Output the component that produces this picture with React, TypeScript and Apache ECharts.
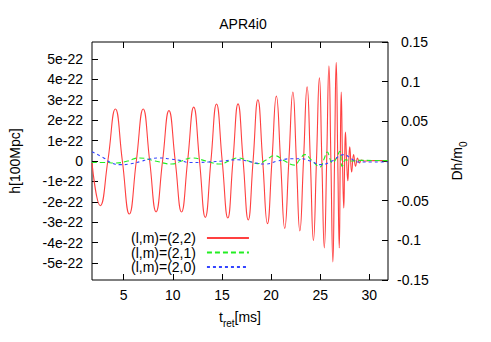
import React, { useEffect, useRef } from "react";
import * as echarts from "echarts";

// (l,m)=(2,2): times [ms] and h [1e-22] at extrema / zero crossings
const tRed = [
  1.78, 2.62, 3.39, 4.16, 4.87, 5.58, 6.29, 6.99, 7.65, 8.3, 8.96, 9.61, 10.25, 10.89,
  11.51, 12.13, 12.72, 13.31, 13.88, 14.45, 15.03, 15.6, 16.12, 16.64, 17.16, 17.68,
  18.17, 18.66, 19.15, 19.63, 20.09, 20.54, 20.97, 21.39, 21.81, 22.22, 22.58, 22.93,
  23.3, 23.67, 24.0, 24.31, 24.62, 24.92, 25.17, 25.42, 25.66, 25.89, 26.09, 26.29,
  26.46, 26.63, 26.79, 26.94, 27.04, 27.14, 27.27, 27.4, 27.49, 27.57, 27.69, 27.81,
  27.91, 28.01, 28.2, 28.4, 28.6, 28.8, 29.0, 29.2, 29.5, 30.5, 31.9,
];
const hRed = [
  -0.1, -2.19, 0, 2.55, 0, -2.6, 0, 2.55, 0, -2.49, 0, 2.47, 0, -2.5,
  0, 2.64, 0, -2.76, 0, 2.79, 0, -2.79, 0, 2.8, 0, -2.89,
  0, 3.0, 0, -3.07, 0, 3.18, 0, -3.3, 0, 3.38, 0, -3.43,
  0, 3.63, 0, -3.89, 0, 4.07, 0, -4.26, 0, 4.66, 0, -4.95,
  0, 4.83, 0, -4.26, 0, 3.38, 0, -2.3, 0, 1.42, 0, -0.97,
  0, 0.69, -0.54, 0.31, -0.26, 0.15, -0.1, 0.05, 0.0, 0.02, 0.02,
];

// (l,m)=(2,1)
const tGreen = [
  1.78, 3.0, 4.19, 5.4, 6.55, 8.2, 9.91, 10.9, 11.93, 13.4, 14.79, 15.7, 16.64, 17.7,
  18.66, 19.5, 20.34, 21.4, 22.36, 22.9, 23.43, 24.2, 24.98, 25.35, 25.73, 26.0, 26.23,
  26.6, 27.0, 27.24, 27.6, 28.2, 29.0, 31.9,
];
const hGreen = [
  -0.07, -0.07, -0.1, 0.0, 0.15, 0.0, -0.15, 0.0, 0.15, 0.0, -0.15, 0.0, 0.15, 0.0,
  -0.13, 0.05, 0.26, 0.0, -0.2, 0.05, 0.31, 0.0, -0.29, 0.05, 0.44, 0.1, -0.1,
  0.1, 0.47, -0.26, 0.06, 0.0, 0.03, 0.02,
];

// (l,m)=(2,0)
const tBlue = [
  1.78, 2.98, 3.66, 4.67, 5.68, 6.69, 7.69, 8.7, 9.71, 10.72, 11.73, 12.74, 13.62,
  15.1, 16.64, 18.0, 19.33, 20.7, 22.0, 23.0, 24.0, 25.05, 26.2, 27.4, 28.2, 28.9, 31.9,
];
const hBlue = [
  0.45, 0.15, -0.07, -0.18, -0.14, -0.03, 0.1, 0.15, 0.1, 0.03, -0.07, -0.07, -0.05,
  0.0, 0.06, -0.05, -0.15, 0.0, 0.11, 0.11, 0.0, -0.18, 0.0, 0.31, 0.1, -0.05, -0.05,
];

const xTicks = [5, 10, 15, 20, 25, 30];
const leftTicks = [-5, -4, -3, -2, -1, 0, 1, 2, 3, 4, 5];
const rightTicks = [-0.15, -0.1, -0.05, 0, 0.05, 0.1, 0.15];
const seriesNames = ["(l,m)=(2,2)", "(l,m)=(2,1)", "(l,m)=(2,0)"];

const FONT = "'Liberation Sans', Arial, sans-serif";

export default function App() {
  const ref = useRef<HTMLDivElement>(null);
  useEffect(() => {
    document.body.style.margin = "0";
    if (!ref.current) return;
    const chart = echarts.init(ref.current, undefined, { renderer: "svg" });
    const pair = (ts: number[], hs: number[]) => ts.map((t, i) => [t, hs[i]]);
    const tickStyle = { show: true, inside: true, length: 6, lineStyle: { color: "#000", width: 1 } };
    const noLine = { show: false, onZero: false };
    chart.setOption({
      animation: false,
      textStyle: { fontFamily: FONT },
      title: {
        text: "APR4i0",
        left: 238,
        textAlign: "center",
        top: 12,
        textStyle: { fontSize: 14, fontWeight: "normal", color: "#000", fontFamily: FONT },
      },
      grid: {
        left: 89,
        right: 103,
        top: 42,
        bottom: 62,
        show: true,
        borderColor: "#000",
        borderWidth: 1,
        backgroundColor: "transparent",
      },
      legend: {
        orient: "vertical",
        left: 126,
        top: 226,
        align: "right",
        itemWidth: 42,
        itemHeight: 14,
        itemGap: 0.5,
        data: seriesNames,
        itemStyle: { opacity: 0 },
        textStyle: { fontSize: 14, color: "#000", fontFamily: FONT, padding: [0, 6, 0, 0] },
      },
      xAxis: [
        {
          type: "value",
          min: 1.78,
          max: 31.9,
          position: "bottom",
          splitLine: { show: false },
          axisLine: noLine,
          axisTick: { ...tickStyle, customValues: xTicks },
          axisLabel: { customValues: xTicks, fontSize: 14, color: "#000", margin: 8, fontFamily: FONT },
          name: "{t|t}{s|ret}{t|[ms]}",
          nameLocation: "middle",
          nameGap: 28,
          nameTextStyle: {
            rich: {
              t: { fontSize: 14, color: "#000", fontFamily: FONT, verticalAlign: "bottom", lineHeight: 16 },
              s: { fontSize: 10, color: "#000", fontFamily: FONT, verticalAlign: "bottom", lineHeight: 16, padding: [0, 0, -4, 0] },
            },
          },
        },
        {
          type: "value",
          min: 1.78,
          max: 31.9,
          position: "top",
          splitLine: { show: false },
          axisLine: noLine,
          axisTick: { ...tickStyle, customValues: xTicks },
          axisLabel: { show: false },
        },
      ],
      yAxis: [
        {
          type: "value",
          min: -5.83,
          max: 5.83,
          position: "left",
          splitLine: { show: false },
          axisLine: noLine,
          axisTick: { ...tickStyle, customValues: leftTicks },
          axisLabel: {
            customValues: leftTicks,
            fontSize: 14,
            color: "#000",
            margin: 9,
            fontFamily: FONT,
            formatter: (v: number) => (v === 0 ? "0" : `${v}e-22`),
          },
          name: "h[100Mpc]",
          nameLocation: "middle",
          nameRotate: 90,
          nameGap: 70,
          nameTextStyle: { fontSize: 14, color: "#000", fontFamily: FONT },
        },
        {
          type: "value",
          min: -0.15,
          max: 0.15,
          position: "right",
          splitLine: { show: false },
          axisLine: noLine,
          axisTick: { ...tickStyle, customValues: rightTicks },
          axisLabel: {
            customValues: rightTicks,
            fontSize: 14,
            color: "#000",
            margin: 9,
            fontFamily: FONT,
            formatter: (v: number) => (v < 0 ? `${v}` : `\u00a0${v}`),
          },
          name: "{t|Dh/m}{s|0}",
          nameLocation: "middle",
          nameRotate: 90,
          nameGap: 60,
          nameTextStyle: {
            rich: {
              t: { fontSize: 14, color: "#000", fontFamily: FONT, verticalAlign: "bottom", lineHeight: 16 },
              s: { fontSize: 10, color: "#000", fontFamily: FONT, verticalAlign: "bottom", lineHeight: 16, padding: [0, 0, -4, 0] },
            },
          },
        },
      ],
      series: [
        {
          name: seriesNames[0],
          type: "line",
          data: pair(tRed, hRed),
          smooth: 0.5,
          showSymbol: false,
          symbol: "none",
          z: 3,
          lineStyle: { color: "#ff4040", width: 1.1 },
          itemStyle: { color: "#ff4040" },
        },
        {
          name: seriesNames[1],
          type: "line",
          data: pair(tGreen, hGreen),
          smooth: 0.5,
          showSymbol: false,
          symbol: "none",
          z: 4,
          lineStyle: { color: "#22ee22", width: 1.1, type: [5, 3] },
          itemStyle: { color: "#22ee22" },
        },
        {
          name: seriesNames[2],
          type: "line",
          data: pair(tBlue, hBlue),
          smooth: 0.5,
          showSymbol: false,
          symbol: "none",
          z: 5,
          lineStyle: { color: "#3344ff", width: 1.1, type: [3, 3] },
          itemStyle: { color: "#3344ff" },
        },
      ],
    });
    return () => chart.dispose();
  }, []);
  return <div ref={ref} style={{ width: 491, height: 342 }} />;
}
